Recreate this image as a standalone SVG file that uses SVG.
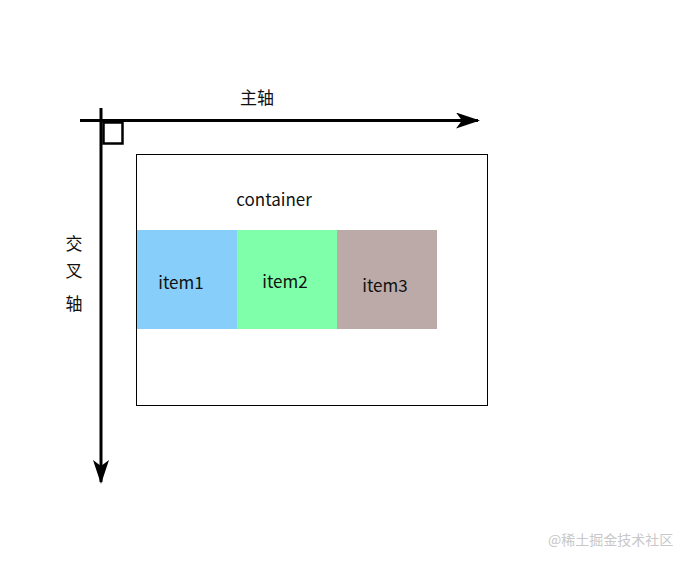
<svg xmlns="http://www.w3.org/2000/svg" width="696" height="564" viewBox="0 0 696 564">
<style>
.lbl{font-family:"Microsoft YaHei","Noto Sans CJK SC","Liberation Sans",sans-serif;font-size:17px;fill:#111;text-anchor:middle}
.axis{stroke:#000;stroke-width:3;fill:none}
.wm{font-family:"Noto Sans CJK SC",sans-serif;font-size:14px;fill:#c8c8c8}
</style>
<defs>
<marker id="ah" viewBox="0 0 24 16" refX="22" refY="8" markerWidth="24" markerHeight="16" markerUnits="userSpaceOnUse" orient="auto">
<path d="M0,0 L24,8 L0,16 L6,8 z" fill="#000"/>
</marker>
</defs>
<rect width="696" height="564" fill="#fff"/>
<g id="connectors">
<line class="axis" x1="80" y1="120.5" x2="478" y2="120.5" marker-end="url(#ah)"/>
<line class="axis" x1="101" y1="108" x2="101" y2="482" marker-end="url(#ah)"/>
<rect x="103.5" y="122.5" width="19" height="21" fill="none" stroke="#000" stroke-width="2.5"/>
</g>
<g id="main-axis-label"><text class="lbl" x="257" y="104">主轴</text></g>
<g id="cross-axis-label">
<text class="lbl" x="74" y="250">交</text>
<text class="lbl" x="74" y="277">叉</text>
<text class="lbl" x="74" y="310">轴</text>
</g>
<g id="container">
<rect x="136.5" y="154.5" width="351" height="251" fill="none" stroke="#000" stroke-width="1"/>
<text class="lbl" x="274" y="206">container</text>
</g>
<g id="item1"><rect x="137" y="230" width="100" height="99" fill="#87CEFA"/><text class="lbl" x="181" y="289">item1</text></g>
<g id="item2"><rect x="237" y="230" width="100" height="99" fill="#80FFAA"/><text class="lbl" x="285" y="288">item2</text></g>
<g id="item3"><rect x="337" y="230" width="100" height="99" fill="#BCAAA8"/><text class="lbl" x="385" y="292">item3</text></g>
<text class="wm" x="548" y="545">@稀土掘金技术社区</text>
</svg>
